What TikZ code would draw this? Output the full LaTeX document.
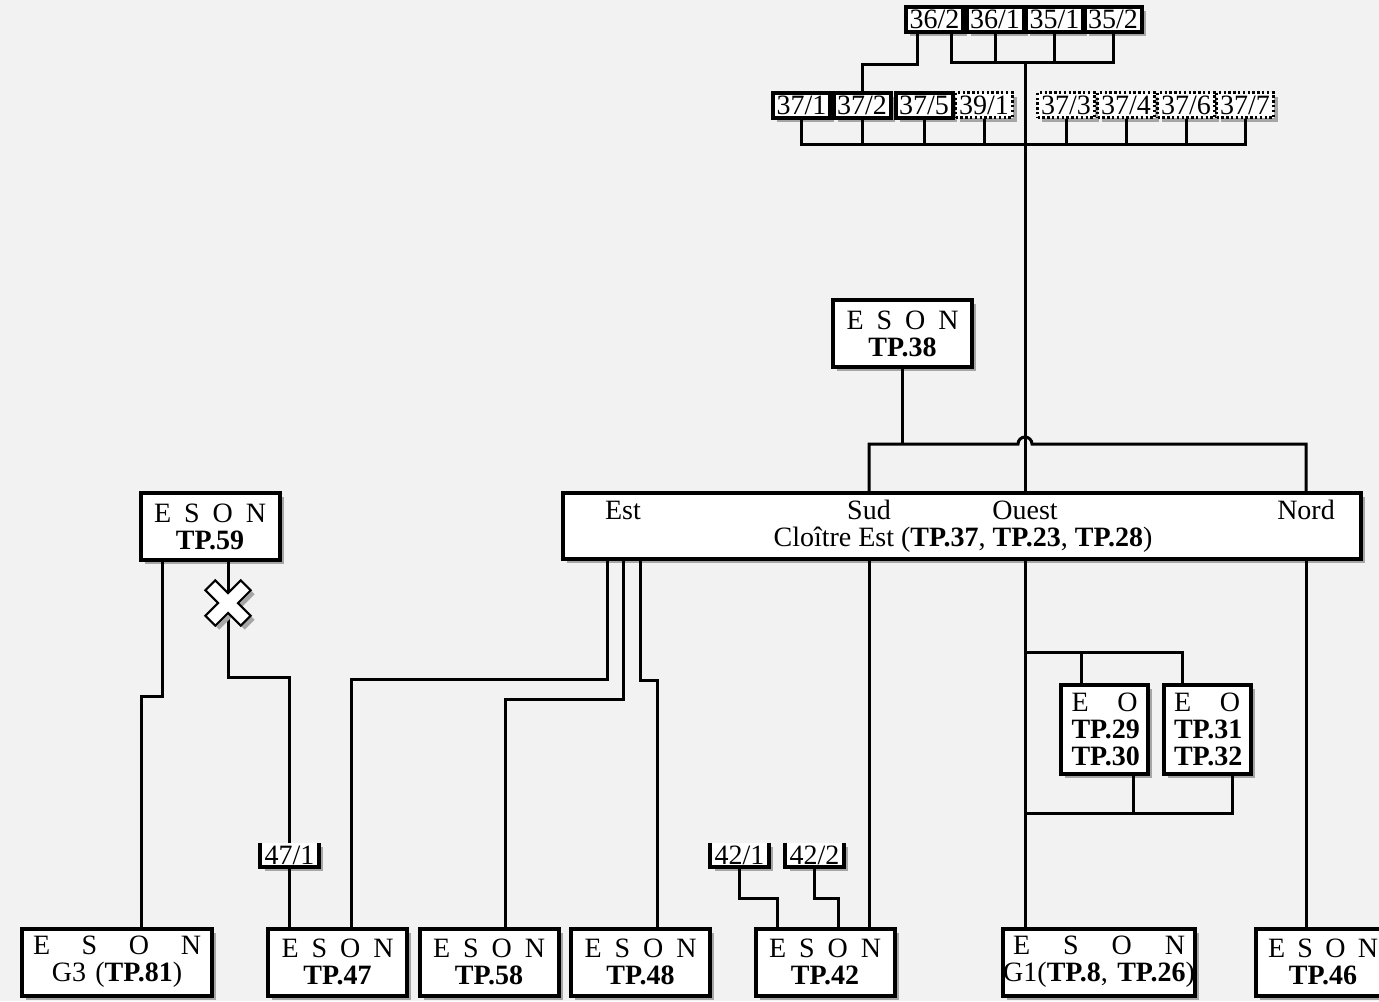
\documentclass[tikz,border=0pt]{standalone}
\usepackage{fontspec}
\setmainfont{Liberation Serif}
\usepackage{tikz}
\usetikzlibrary{calc,shadows}
\definecolor{paper}{HTML}{F2F2F2}
\definecolor{shade}{HTML}{A6A6A6}
\newcommand{\esonrow}[1][\hsize]{\makebox[#1]{E\hfill S\hfill O\hfill N}}
\tikzset{
  plate/.style ={fill=white, align=center, inner sep=0pt,
                 font=\fontsize{14}{13.5}\selectfont,
                 drop shadow={shadow xshift=2pt, shadow yshift=-2pt, fill=shade, opacity=1}},
  box/.style   ={plate, draw, line width=2pt, minimum height=33.5pt},
  tp/.style    ={box, minimum width=69.5pt, text width=56pt},
  wide/.style  ={box, minimum width=95pt, text width=84pt},
  pair/.style  ={box, minimum width=43.5pt, minimum height=44.5pt, text width=33pt},
  tag/.style   ={plate, draw, line width=2pt, minimum width=28.5pt, minimum height=12.5pt},
  tagd/.style  ={tag, line width=1.2pt, dash pattern=on 1.2pt off 1.2pt},
  tago/.style  ={plate, minimum width=29pt, minimum height=12pt},
  rim/.style   ={line width=2pt},
  lbl/.style   ={font=\fontsize{14}{13.5}\selectfont, inner sep=0pt},
  wire/.style  ={line width=1.5pt},
  cross/.style ={fill=white, line width=1pt,
                 drop shadow={shadow xshift=2pt, shadow yshift=-2pt, fill=shade, opacity=1}},
}
\begin{document}
\begin{tikzpicture}[x=0.5pt, y=-0.5pt]
  \fill[paper] (0,0) rectangle (1379,1001);
  \useasboundingbox (0,0) rectangle (1379,1001);

  % tags on top
  \foreach \n/\x/\t in {a1/934.5/{36/2}, a2/995/{36/1}, a3/1054.5/{35/1}, a4/1113/{35/2}}
    \node[tag] (\n) at (\x,19.5) {\t};
  \foreach \n/\x/\t in {b1/801.5/{37/1}, b2/862/{37/2}, b3/924/{37/5}}
    \node[tag] (\n) at (\x,105) {\t};
  \foreach \n/\x/\t in {b4/984/{39/1}, b5/1066/{37/3}, b6/1126/{37/4}, b7/1186/{37/6}, b8/1245/{37/7}}
    \node[tagd] (\n) at (\x,105) {\t};

  \node[tp] (t38) at (902.5,333.5) {\esonrow\\\textbf{TP.38}};
  \node[tp] (t59) at (210,526.5) {\esonrow\\\textbf{TP.59}};

  % cloitre
  \node[box, minimum width=399pt, minimum height=33pt] (clo) at (962,526) {};
  \node[lbl, anchor=base] (est) at (623,519) {Est};
  \node[lbl, anchor=base] (sud) at (869,519) {Sud};
  \node[lbl, anchor=base] (ouest) at (1025,519) {Ouest};
  \node[lbl, anchor=base] (nord) at (1306,519) {Nord};
  \node[lbl, anchor=base] (clotxt) at (963,546) {Cloître Est (\textbf{TP.37}, \textbf{TP.23}, \textbf{TP.28})};

  \node[pair] (p29) at (1104.5,729.5) {E\hfill O\\\textbf{TP.29}\\\textbf{TP.30}};
  \node[pair] (p31) at (1207,729.5) {E\hfill O\\\textbf{TP.31}\\\textbf{TP.32}};

  % open tags
  \node[tago] (o47) at (289.5,855) {47/1};
  \node[tago] (o42a) at (739.5,855) {42/1};
  \node[tago] (o42b) at (814.5,855) {42/2};
  \foreach \n in {o47,o42a,o42b}
    \draw[rim] (\n.north west) |- (\n.south east) -- (\n.north east);

  % bottom row
  \node[wide] (g3) at (117,962) {\esonrow\\G3 (\textbf{TP.81})};
  \node[tp] (t47) at (337.5,962) {\esonrow\\\textbf{TP.47}};
  \node[tp] (t58) at (489,962) {\esonrow\\\textbf{TP.58}};
  \node[tp] (t48) at (640.5,962) {\esonrow\\\textbf{TP.48}};
  \node[tp] (t42) at (825,962) {\esonrow\\\textbf{TP.42}};
  \node[wide, minimum width=96pt, text width=86pt] (g1) at (1099,962) {\esonrow\\\makebox[\hsize]{G1(\textbf{TP.8}, \textbf{TP.26})}};
  \node[tp, minimum width=67pt, text width=55pt] (t46) at (1323,962) {\esonrow\\\textbf{TP.46}};

  \coordinate (busA) at (1025,62);
  \coordinate (busB) at (1025,144);
  \coordinate (hop) at (1025,444);
  \coordinate (split) at (1025,652);
  \coordinate (join) at (1025,813);
  \coordinate (cut) at (228,603);

  % upper buses
  \draw[wire] ($(a1.south)+(-17,0)$) -- ++(0,30) -| (b2.north);
  \draw[wire] ($(a1.south)+(17,0)$) |- (a4.south |- busA) -- (a4.south);
  \foreach \n in {a2,a3}
    \draw[wire] (\n.south) -- (\n.south |- busA);
  \draw[wire] (b1.south) |- (b8.south |- busB) -- (b8.south);
  \foreach \n in {b2,b3,b4,b5,b6,b7}
    \draw[wire] (\n.south) -- (\n.south |- busB);
  \draw[wire] (busA) -- (clo.north -| ouest);
  \draw[wire] (t38.south) -- (t38.south |- hop);
  \draw[wire] (clo.north -| sud) |- ($(hop)+(-7,0)$) arc[start angle=180, end angle=0, radius=3.5pt] -| (clo.north -| nord);

  % below the cloitre
  \draw[wire] ($(clo.south -| est)+(-16,0)$) -- ++(0,118) -| ($(t47.north)+(14,0)$);
  \draw[wire] (clo.south -| est) -- ++(0,138) -| ($(t58.north)+(16,0)$);
  \draw[wire] ($(clo.south -| est)+(17,0)$) -- ++(0,119) -| ($(t48.north)+(16.5,0)$);
  \draw[wire] (clo.south -| sud) -- (t42.north -| sud);
  \draw[wire] (clo.south -| ouest) -- (g1.north -| ouest);
  \draw[wire] (clo.south -| nord) -- (t46.north -| nord);
  \draw[wire] ($(p29.north)+(-23,0)$) |- (split);
  \draw[wire] ($(p31.north)+(-25,0)$) |- (split);
  \draw[wire] ($(p29.south)+(28.5,0)$) |- (join);
  \draw[wire] ($(p31.south)+(25,0)$) |- (join);

  % TP.59 and small tags
  \draw[wire] ($(t59.south)+(-48,0)$) -- ++(0,134) -| ($(g3.north)+(24,0)$);
  \draw[wire] ($(t59.south)+(18,0)$) -- (cut) -- ++(0,74) -| (o47.north);
  \draw[wire] (o47.south) -- (t47.north -| o47.south);
  \draw[wire] (o42a.south) -- ++(0,31) -| ($(t42.north)+(-48,0)$);
  \draw[wire] (o42b.south) -- ++(0,31) -| ($(t42.north)+(13,0)$);

  \filldraw[cross, shift={(cut)}] (-12.73,22.63) -- (0,9.9) -- (12.73,22.63) -- (22.63,12.73)
    -- (9.9,0) -- (22.63,-12.73) -- (12.73,-22.63) -- (0,-9.9) -- (-12.73,-22.63)
    -- (-22.63,-12.73) -- (-9.9,0) -- (-22.63,12.73) -- cycle;
\end{tikzpicture}
\end{document}
